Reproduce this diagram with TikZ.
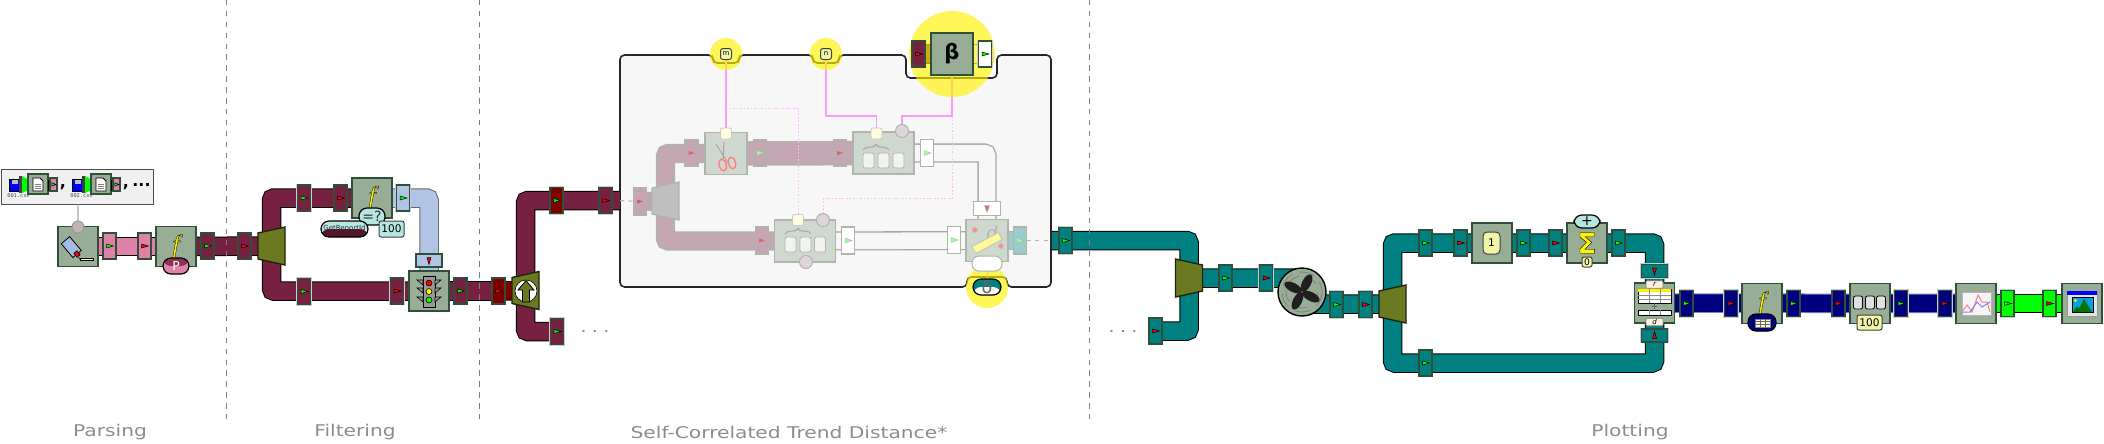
\documentclass[tikz,border=0pt]{standalone}
\usepackage{fontspec}
\setmainfont{DejaVu Sans}
\setmonofont{DejaVu Sans Mono}
\newfontfamily\GlyphF[FakeBold=1.2]{Liberation Serif}
\newfontfamily\GlyphS[FakeBold=1.5]{DejaVu Sans}
\newfontfamily\CapF[FakeStretch=1.25]{DejaVu Sans}
\usetikzlibrary{calc}
\usetikzlibrary{decorations.pathreplacing}
\pgfdeclarelayer{back}
\pgfdeclarelayer{pipes}
\pgfsetlayers{back,pipes,main}
\definecolor{Maroon}{HTML}{762141}
\definecolor{PinkP}{HTML}{DF82A9}
\definecolor{TealP}{HTML}{008080}
\definecolor{NavyP}{HTML}{000080}
\definecolor{LimeP}{HTML}{00FF00}
\definecolor{BlueP}{HTML}{B0C4E6}
\definecolor{DarkRed}{HTML}{800000}
\definecolor{OliveS}{HTML}{6B7A22}
\definecolor{BlockG}{HTML}{97AD95}
\definecolor{BlockE}{HTML}{2F4F38}
\definecolor{Aqua}{HTML}{B5E6E0}
\definecolor{Cream}{HTML}{F2F5A8}
\definecolor{FMar}{HTML}{C5A6B3}
\definecolor{FEdge}{HTML}{B0B5AC}
\definecolor{FBlock}{HTML}{CFD8CF}
\definecolor{FPink}{HTML}{FF99FF}
\definecolor{FDash}{HTML}{FFBBFF}
\definecolor{PortG}{HTML}{C0B4B8}
\definecolor{PortF}{HTML}{DDD5D8}
\newcommand{\Fs}[1]{\fontsize{#1}{#1}\selectfont}
% connector with its flag
\newcommand{\Conn}[5][0]{%
\node[Conn,fill=#4,rotate=#1] (#2) at #3 {};
\draw[Flag,fill=#5,shift={(#2)},rotate=#1] (-3,-2)--(4,0)--(-3,2)--cycle;
}
\newcommand{\FadeConn}[5][0]{%
\node[FadeConn,fill=#4,rotate=#1] (#2) at #3 {};
\draw[FadeFlag,fill=#5,shift={(#2)},rotate=#1] (-3,-2.5)--(4,0)--(-3,2.5)--cycle;
}
\newcommand{\Split}[4][]{%
\coordinate (#2) at #3;
\draw[Split,shift={(#2)},xscale=#4,#1] (-13.5,-13)--(13.5,-19)--(13.5,19)--(-13.5,13)--cycle;
}
\newcommand{\FGlyph}{\raisebox{.5mm}{\color{yellow}\special{pdf:code 0 0 0 RG}\GlyphF\itshape\Fs{7.5}f}}
% one file of the source list
\newcommand{\SrcItem}[3]{%
\draw[fill=blue,line width=.08mm] (#1,179) rectangle (#1+11,191);
\draw[fill=lightgray,draw=none] (#1+3,180) rectangle (#1+9,184);
\draw[fill=LimeP,draw=none] (#1+13,176)--(#1+20,180)--(#1+20,190)--(#1+13,193)--cycle;
\draw[fill=black!75,draw=none] (#1+10,176) rectangle (#1+13,193);
\node[Block,minimum size=2mm] (Doc#2) at (#1+29,184) {};
\draw[fill=white,line width=.08mm] (#1+24,178)--(#1+31,178)--(#1+34,181)--(#1+34,191)--(#1+24,191)--cycle;
\draw[gray,line width=.06mm] (#1+26,184)--(#1+32,184) (#1+26,186)--(#1+32,186) (#1+26,188)--(#1+32,188);
\draw[fill=PinkP,line width=.06mm] (#1+39,180) rectangle (#1+42,190);
\node[Conn,fill=PinkP,minimum width=.7mm,minimum height=1.3mm] (Out#2) at (#1+44.5,184.5) {};
\draw[Flag,fill=LimeP,shift={(Out#2)},scale=.7] (-2.5,-2.5)--(3.5,0)--(-2.5,2.5)--cycle;
\node[font=\ttfamily\Fs{1.5},text=black!70] (Name#2) at (#1+9.5,196) {#3};
}
\begin{document}
\begin{tikzpicture}[
x=0.1mm,y=-0.1mm,
every node/.style={inner sep=0pt,outer sep=0pt},
Pipe/.style={draw=black,line width=.1mm,double=#1,double distance=1.75mm,rounded corners=.25mm},
FadePipe/.style={draw=black!35,line width=.13mm,double=#1,double distance=1.65mm,rounded corners=.25mm},
Conn/.style={draw=BlockE,line width=.12mm,minimum width=1.3mm,minimum height=2.6mm,preaction={draw=white!80!black,line width=.25mm}},
Flag/.style={draw=black,line width=.05mm},
FadeConn/.style={draw=FEdge,line width=.12mm,minimum width=1.35mm,minimum height=2.7mm},
FadeFlag/.style={draw=FEdge,line width=.04mm},
Split/.style={draw=black!70!OliveS,fill=OliveS,line width=.14mm},
FadeSplit/.style={draw=FEdge,fill=black!25,line width=.12mm},
Block/.style={draw=BlockE,fill=BlockG,line width=.14mm,minimum size=4mm},
FadeBlock/.style={draw=FEdge,fill=FBlock,line width=.12mm,minimum size=4.2mm},
Port/.style={circle,draw=black!40,fill=PortG,line width=.1mm,minimum size=1.2mm},
FadePort/.style={circle,draw=FEdge,fill=PortF,line width=.1mm,minimum size=1.3mm},
FadeSq/.style={draw=FEdge!70,fill=yellow!12,rounded corners=.2mm,line width=.08mm,minimum size=1.1mm},
Pill/.style 2 args={draw=black,line width=.12mm,rounded corners=.8mm,fill=#1,path picture={\fill[#2] (path picture bounding box.south west) rectangle (path picture bounding box.east);}},
Value/.style={draw=black!75,line width=.1mm,rounded corners=.2mm,fill=#1},
Slot/.style={draw=black,fill=black!12,line width=.08mm,rounded corners=.2mm},
FadeSlot/.style={draw=FEdge,fill=black!5,line width=.08mm,rounded corners=.2mm},
Divider/.style={draw=gray,line width=.1mm,dash pattern=on 1.55pt off 1.55pt},
FadeLink/.style={draw=black!30,line width=.1mm,dash pattern=on 1.2pt off 1.2pt},
Caption/.style={text=black!45,font=\CapF\Fs{4.6}},
Halo/.style={fill=yellow,opacity=.65},
Tag/.style={draw=black!50,fill=orange!12,line width=.06mm,rounded corners=.1mm,minimum width=1.7mm,minimum height=.75mm}
]
\useasboundingbox (0,0) rectangle (2104,443);

% sections
\coordinate (DivA) at (226,0);
\coordinate (DivB) at (479.5,0);
\coordinate (DivC) at (1089.5,0);
\coordinate (DivAe) at (226,423);
\coordinate (DivBe) at (479.5,423);
\coordinate (DivCe) at (1089.5,423);
\draw[Divider] (DivA)--(DivAe);
\draw[Divider] (DivB)--(DivBe);
\draw[Divider] (DivC)--(DivCe);
\node[Caption] (CapA) at (110,432) {Parsing};
\node[Caption] (CapB) at (355,432) {Filtering};
\node[Caption] (CapC) at (789,432) {Self-Correlated Trend Distance*};
\node[Caption] (CapD) at (1630,432) {Plotting};

% parsing
\node[draw=black!70,fill=black!6,line width=.1mm,minimum width=15.2mm,minimum height=3.5mm] (Src) at (77.8,186.5) {};
\SrcItem{9}{A}{001.csv}
\SrcItem{72}{B}{002.csv}
\node[font=\bfseries\Fs{4.5}] (CommaA) at (63,187) {,};
\node[font=\bfseries\Fs{4.5}] (CommaB) at (126,187) {,};
\node[font=\bfseries\Fs{4.5}] (More) at (141.5,185) {...};
\node[Block] (Parse) at (78,246.5) {};
\node[Port] (ParsePort) at (78,227) {};
\draw[black!35,line width=.12mm] (Src)--(ParsePort);
\draw[fill=cyan!45!blue!35!white,line width=.08mm,rotate around={-50:(71,246)}] (63,241) rectangle (81,252);
\draw[fill=red,line width=.06mm,rotate around={-50:(77,254)}] (74.5,252) rectangle (79.5,256);
\draw[black!70,line width=.1mm] (78,256)--(80,259.5);
\draw[fill=yellow!35,line width=.06mm] (80,258.5) rectangle (93,260.5);
\Conn{PinkA}{(109.5,246)}{PinkP}{LimeP}
\Conn{PinkB}{(144.5,246)}{PinkP}{red}
\node[Block] (FnP) at (176,246.5) {\FGlyph};
\node[Pill={PinkP}{PinkP},minimum width=2.6mm,minimum height=1.6mm,path picture={\fill[Maroon!80!PinkP] (path picture bounding box.north west) rectangle (path picture bounding box.east);},text=white,font=\Fs{3.5}] (PillP) at (176,266) {P};
\Conn{MarA}{(207.5,246)}{Maroon}{LimeP}
\Conn{MarB}{(244.5,246)}{Maroon}{red}
\Split{SplitA}{(271.5,246)}{1}

% filtering
\Conn{MarC}{(304,198)}{Maroon}{LimeP}
\Conn{MarD}{(340.5,198)}{Maroon}{red}
\node[Block] (FnR) at (372,198) {\FGlyph};
\Conn{BlueA}{(403,198)}{BlueP}{LimeP}
\node[Pill={Aqua}{Aqua},minimum width=2.6mm,minimum height=1.7mm,font=\Fs{4},text=black!80] (Eq) at (372,216.5) {=?};
\node[Pill={Aqua}{Maroon!70!black},minimum width=4.7mm,minimum height=1.6mm,font=\Fs{2},text=black!80] (RepId) at (344.5,229) {GetReportId};
\node[Value=Aqua,minimum width=2.5mm,minimum height=1.6mm,font=\Fs{3}] (Hundred) at (391.5,229) {100};
\Conn[-90]{BlueB}{(429,260.5)}{BlueP}{red}
\node[Block] (Light) at (429,291) {};
\draw[fill=black!40,line width=.08mm] (423,276) rectangle (435,307);
\foreach \Yl in {283,291,300} {
\draw[fill=black!40,line width=.06mm] (423,\Yl-3)--(417,\Yl-3)--(423,\Yl+2)--cycle;
\draw[fill=black!40,line width=.06mm] (435,\Yl-3)--(441,\Yl-3)--(435,\Yl+2)--cycle;
}
\draw[fill=red,line width=.06mm] (429,283) circle [radius=3];
\draw[fill=yellow,line width=.06mm] (429,291.5) circle [radius=3];
\draw[fill=LimeP,line width=.06mm] (429,300) circle [radius=3];
\Conn{MarE}{(304,291.5)}{Maroon}{LimeP}
\Conn{MarF}{(397,291)}{Maroon}{red}
\Conn{MarG}{(460.5,291)}{Maroon}{LimeP}
\Conn{DredA}{(498.5,291)}{DarkRed}{red}
\Split{SplitB}{(525.5,290.5)}{1}
\node[circle,fill=white,draw=black,line width=.06mm,minimum size=2.2mm] (Bypass) at (526,291) {};
\draw[fill=OliveS,line width=.08mm] (526,280.5)--(534,290)--(529.5,290)--(529.5,302)--(522.5,302)--(522.5,290)--(518,290)--cycle;
\Conn{DredB}{(556.5,200.5)}{DarkRed}{LimeP}
\Conn{MarH}{(605.5,200.5)}{Maroon}{red}
\Conn{MarI}{(557,331.5)}{Maroon}{LimeP}
\node[text=gray,font=\bfseries\Fs{3}] (DotsA) at (595,331) {.\ \ .\ \ .};
\coordinate (FrameIn) at (620,200.5);
\coordinate (FrameOut) at (1052,240.5);

% trend distance, greyed out
\FadeConn{FadeA}{(640,201.5)}{FMar}{red!50!FMar}
\Split[FadeSplit]{SplitF}{(665.5,201)}{1}
\FadeConn{FadeB}{(691.5,153)}{FMar}{red!40!FMar}
\node[FadeBlock] (Cut) at (726,153.5) {};
\draw[gray!70,line width=.1mm] (716,144)--(728,163) (724,142)--(723,160);
\draw[red!50,line width=.14mm,rotate around={15:(722.7,165)}] (722.7,165) ellipse [x radius=3.5,y radius=6];
\draw[red!50,line width=.14mm,rotate around={15:(732,163)}] (732,163) ellipse [x radius=3.5,y radius=6];
\node[FadeSq] (SqA) at (726,133.5) {};
\FadeConn{FadeC}{(760,153)}{FMar}{LimeP!40}
\FadeConn{FadeD}{(840,153)}{FMar}{red!40!FMar}
\node[FadeBlock,minimum width=6.1mm] (Merge) at (883.5,153) {};
\foreach \Xs in {868.5,883.5,898.5} {
\draw[FadeSlot] (\Xs-5.5,153) rectangle (\Xs+5.5,168);
}
\draw[decorate,decoration={brace,amplitude=1.6pt},black!35,line width=.1mm] (863,150)--(889,150);
\node[FadeSq] (SqB) at (876.5,133.5) {};
\node[FadePort] (PortB) at (902,131) {};
\FadeConn{FadeE}{(927,153)}{white}{LimeP!40}
\FadeConn{FadeF}{(762,240.5)}{FMar}{red!40!FMar}
\node[FadeBlock,minimum width=6.1mm] (Lower) at (805,241) {};
\foreach \Xs in {790.5,805.5,820} {
\draw[FadeSlot] (\Xs-5.5,237) rectangle (\Xs+5.5,252);
}
\draw[decorate,decoration={brace,amplitude=1.6pt},black!35,line width=.1mm] (785,234)--(811,234);
\node[FadeSq] (SqC) at (798,220) {};
\node[FadePort] (PortC) at (823,220) {};
\node[FadePort] (PortD) at (806,262) {};
\FadeConn{FadeG}{(848,240.5)}{white}{LimeP!40}
\FadeConn{FadeH}{(954,240)}{white}{LimeP!40}
\FadeConn[-90]{FadeI}{(987,208.5)}{white}{red!40!FMar}
\node[FadeBlock] (Dist) at (987,240.5) {};
\node[text=black!30,font=\itshape\Fs{5}] (DistD) at (992,232.5) {d};
\draw[fill=yellow!40,draw=black!25,line width=.08mm,rotate around={28:(987,243)}] (972,239) rectangle (1002,247);
\draw[fill=red!45,draw=black!25,line width=.06mm] (975,230) circle [radius=2.5];
\draw[fill=red!45,draw=black!25,line width=.06mm] (1001,246) circle [radius=2.5];
\node[draw=FEdge,fill=white,line width=.1mm,rounded corners=.7mm,minimum width=3mm,minimum height=1.5mm] (DeltaUp) at (987,263.5) {};
\FadeConn{FadeJ}{(1020,240.5)}{TealP!40}{LimeP!40}

% parameters on the frame
\node[Value=Cream,minimum size=1.1mm,font=\Fs{2},rounded corners=.25mm] (PortM) at (726,54) {m};
\node[Value=Cream,minimum size=1.1mm,font=\Fs{2},rounded corners=.25mm] (PortN) at (826,54) {n};
\Conn{BetaA}{(918.5,54)}{Maroon}{red}
\node[Block,minimum size=4.2mm,font=\bfseries\Fs{6}] (Beta) at (952,54) {β};
\Conn{BetaB}{(985,54)}{white}{LimeP}
\node[Pill={TealP}{white},minimum width=2.8mm,minimum height=1.6mm,font=\Fs{5},text=black!60] (Delta) at (987,287) {δ};
\coordinate (RunB) at (876.5,116);
\coordinate (RunC) at (902,116);
\coordinate (RunD) at (823,198);
\coordinate (TapM) at (726,108);
\coordinate (TapB) at (952,116);

% plotting
\Conn{TealA}{(1065.5,240.5)}{TealP}{LimeP}
\Split{SplitC}{(1189,278)}{-1}
\Conn{TealB}{(1155.5,331)}{TealP}{red}
\node[text=gray,font=\bfseries\Fs{3}] (DotsB) at (1123,331) {.\ \ .\ \ .};
\Conn{TealC}{(1225.5,278)}{TealP}{LimeP}
\Conn{TealD}{(1266,278)}{TealP}{red}
\node[circle,draw=black,fill=BlockG,line width=.14mm,minimum size=4.8mm] (Fan) at (1302,292) {};
\draw[black!50,line width=.08mm,dash pattern=on 1.5mm off .8mm] (Fan) circle [radius=20];
\draw[black!50,line width=.08mm,dash pattern=on 1.2mm off .8mm] (Fan) circle [radius=16];
\foreach \Ang in {63,153,243,333} {
\draw[fill=black!88,draw=none,shift={(Fan)},rotate=\Ang] (10,0) ellipse [x radius=9.5,y radius=4.5];
}
\Conn{TealE}{(1336.5,304.5)}{TealP}{LimeP}
\Conn{TealF}{(1365.5,304.5)}{TealP}{red}
\Split{SplitD}{(1392.5,304)}{1}
\Conn{TealG}{(1425.5,243)}{TealP}{LimeP}
\Conn{TealH}{(1460.5,243)}{TealP}{red}
\node[Block] (One) at (1492,243) {};
\node[Value=Cream,minimum width=1.7mm,minimum height=2.2mm,rounded corners=.4mm,font=\Fs{3}] (OneV) at (1491.5,243) {1};
\Conn{TealI}{(1523.5,243)}{TealP}{LimeP}
\Conn{TealJ}{(1555.5,243)}{TealP}{red}
\node[Block,font=\bfseries\Fs{8}] (Sum) at (1587,243) {{\color{yellow}\special{pdf:code 0 0 0 RG}\GlyphS\bfseries Σ}};
\node[Pill={Aqua}{Aqua},minimum width=2.6mm,minimum height=1.3mm,font=\Fs{4}] (SumOp) at (1587,221.5) {+};
\node[Value=Cream,minimum size=1mm,font=\Fs{2.6},rounded corners=.2mm] (SumZero) at (1587,262) {0};
\Conn{TealK}{(1618.5,243)}{TealP}{LimeP}
\Conn[-90]{TealM}{(1654.5,271)}{TealP}{red}
\Conn[90]{TealN}{(1654.5,335.5)}{TealP}{red}
\Conn{TealL}{(1425.5,363)}{TealP}{LimeP}
\node[Block] (Tab) at (1654.5,303) {};
\node[Tag,font=\itshape\Fs{2}] (TagR) at (1654.5,284.5) {r};
\node[Tag,font=\itshape\Fs{2}] (TagD) at (1654.5,322) {d};
\draw[fill=white,line width=.06mm] (1638,289) rectangle (1671,303);
\fill[yellow] (1638,289) rectangle (1671,292);
\draw[black!45,line width=.06mm] (1638,295.5)--(1671,295.5) (1638,299.5)--(1671,299.5) (1649,289)--(1649,303) (1660,289)--(1660,303);
\node[font=\Fs{2.5},text=black!70] (TabPlus) at (1654.5,307) {+};
\draw[fill=white,line width=.06mm] (1638,310) rectangle (1671,315);
\draw[black!45,line width=.06mm] (1649,310)--(1649,315) (1660,310)--(1660,315);
\Conn{NavA}{(1686.5,303.5)}{NavyP}{LimeP}
\Conn{NavB}{(1731,303.5)}{NavyP}{red}
\node[Block] (FnT) at (1762,303.5) {\FGlyph};
\node[Pill={NavyP}{NavyP},minimum width=2.8mm,minimum height=1.7mm] (PillT) at (1762,322.5) {};
\draw[fill=yellow!20,draw=black!50,line width=.05mm] (1755,319) rectangle (1770,327);
\draw[black!60,line width=.05mm] (1755,321.5)--(1770,321.5) (1755,324)--(1770,324) (1760,319)--(1760,327) (1765,319)--(1765,327);
\Conn{NavC}{(1793.5,303.5)}{NavyP}{LimeP}
\Conn{NavD}{(1838.5,303.5)}{NavyP}{red}
\node[Block] (Slots) at (1870,303.5) {};
\foreach \Xs in {1858,1870,1881} {
\draw[Slot] (\Xs-4.5,296) rectangle (\Xs+4.5,309);
}
\node[Value=Cream,minimum width=2.5mm,minimum height=1.5mm,font=\Fs{3}] (SlotsN) at (1869.5,322.5) {100};
\Conn{NavE}{(1901,303.5)}{NavyP}{LimeP}
\Conn{NavF}{(1945,303.5)}{NavyP}{red}
\node[Block] (Plot) at (1976,303.5) {};
\draw[fill=black!4,draw=black!30,line width=.08mm] (1962,292) rectangle (1991,315);
\draw[red!50,line width=.1mm] (1962,312)--(1967,305)--(1972,312)--(1978,295)--(1982,302)--(1987,302)--(1990,312);
\draw[blue!50,line width=.1mm] (1962,312)--(1970,312)--(1977,302)--(1982,307)--(1990,302);
\Conn{LimA}{(2007.5,303.5)}{LimeP}{LimeP}
\Conn{LimB}{(2049.5,303.5)}{LimeP}{red}
\node[Block] (Win) at (2082,303.5) {};
\draw[fill=black!10,draw=black!40,line width=.06mm] (2067,291) rectangle (2097,316);
\fill[blue] (2067,291) rectangle (2097,294.5);
\draw[fill=cyan!90!blue,line width=.08mm] (2072,297) rectangle (2093,312);
\fill[green!45!black] (2077,312)--(2084,299)--(2092,312)--cycle;
\fill[green!45!black] (2073,312)--(2077,306)--(2081,312)--cycle;
\fill[yellow] (2075.5,300.5) circle [radius=1.6];

% frame, then the pipes under everything else
\begin{pgfonlayer}{back}
\draw[draw=black!85,fill=black!3,line width=.16mm,rounded corners=.45mm] (620,55)--(713,55)--(713,63)--(739,63)--(739,55)--(813,55)--(813,63)--(839,63)--(839,55)--(906,55)--(906,78)--(997,78)--(997,55)--(1051,55)--(1051,287)--(1007,287)--(1007,277)--(967,277)--(967,287)--(620,287)--cycle;
\end{pgfonlayer}
\begin{pgfonlayer}{pipes}
\draw[Pipe=PinkP] (Parse.center)--(FnP.center);
\draw[Pipe=Maroon] (FnP.center)--(SplitA);
\draw[Pipe=Maroon] (FnR.center)-|(SplitA)|-(Light.center);
\draw[Pipe=BlueP,draw=black!60] (FnR.center)-|(Light.center);
\draw[Pipe=Maroon] (Light.center)--(DredA.center);
\draw[Pipe=DarkRed] (DredA.center)--(SplitB);
\draw[Pipe=Maroon] (FrameIn)-|(SplitB)|-(MarI.center);
\draw[FadeLink] (FrameIn)--(FadeA);
\draw[FadePipe=FMar,draw=FEdge] (FadeA.center)--(SplitF);
\draw[FadePipe=FMar,draw=FEdge] (Lower.center)-|(SplitF)|-(Cut.center);
\draw[FadePipe=FMar,draw=FEdge,double distance=2.2mm] (Cut.center)--(Merge.center);
\draw[FadePipe=black!3] (Merge.center)-|(Dist.center);
\draw[FadePipe=black!3] (Lower.center)--(Dist.center);
\draw[FadePipe=TealP!40,draw=FEdge] (Dist.center)--(FadeJ.center);
\draw[FadeLink] (FadeJ)--(FrameOut);
\draw[FPink,line width=.12mm] (PortM)--(SqA);
\draw[FPink,line width=.12mm] (PortN)|-(RunB)--(SqB);
\draw[FPink,line width=.12mm] (Beta)|-(RunC)--(PortB);
\draw[FDash,line width=.1mm,dash pattern=on .5pt off .5pt] (TapM)-|(SqC);
\draw[FDash,line width=.1mm,dash pattern=on .5pt off .5pt] (TapB)|-(RunD)--(PortC);
\draw[Pipe=Maroon] (BetaA.center)--(Beta.center);
\draw[FadePipe=white,draw=black!70,double distance=1.8mm] (Beta.center)--(BetaB.center);
\draw[red!40,line width=.08mm] (DeltaUp)--(Delta);
\fill[Halo] (PortM) circle [radius=16];
\fill[Halo] (PortN) circle [radius=16];
\fill[Halo] (Beta) circle [radius=43];
\fill[Halo] (Delta) circle [radius=21];
\draw[Pipe=TealP] (FrameOut)-|(SplitC)|-(TealB.center);
\draw[Pipe=TealP] (SplitC)-|(Fan.center)|-(SplitD);
\draw[Pipe=TealP] (Tab.center)|-(TealG.center)-|(SplitD)|-(TealL.center)-|(Tab.center);
\draw[Pipe=NavyP,draw=NavyP!50!white] (Tab.center)--(Plot.center);
\draw[Pipe=LimeP] (Plot.center)--(Win.center);
\end{pgfonlayer}

\end{tikzpicture}
\end{document}
